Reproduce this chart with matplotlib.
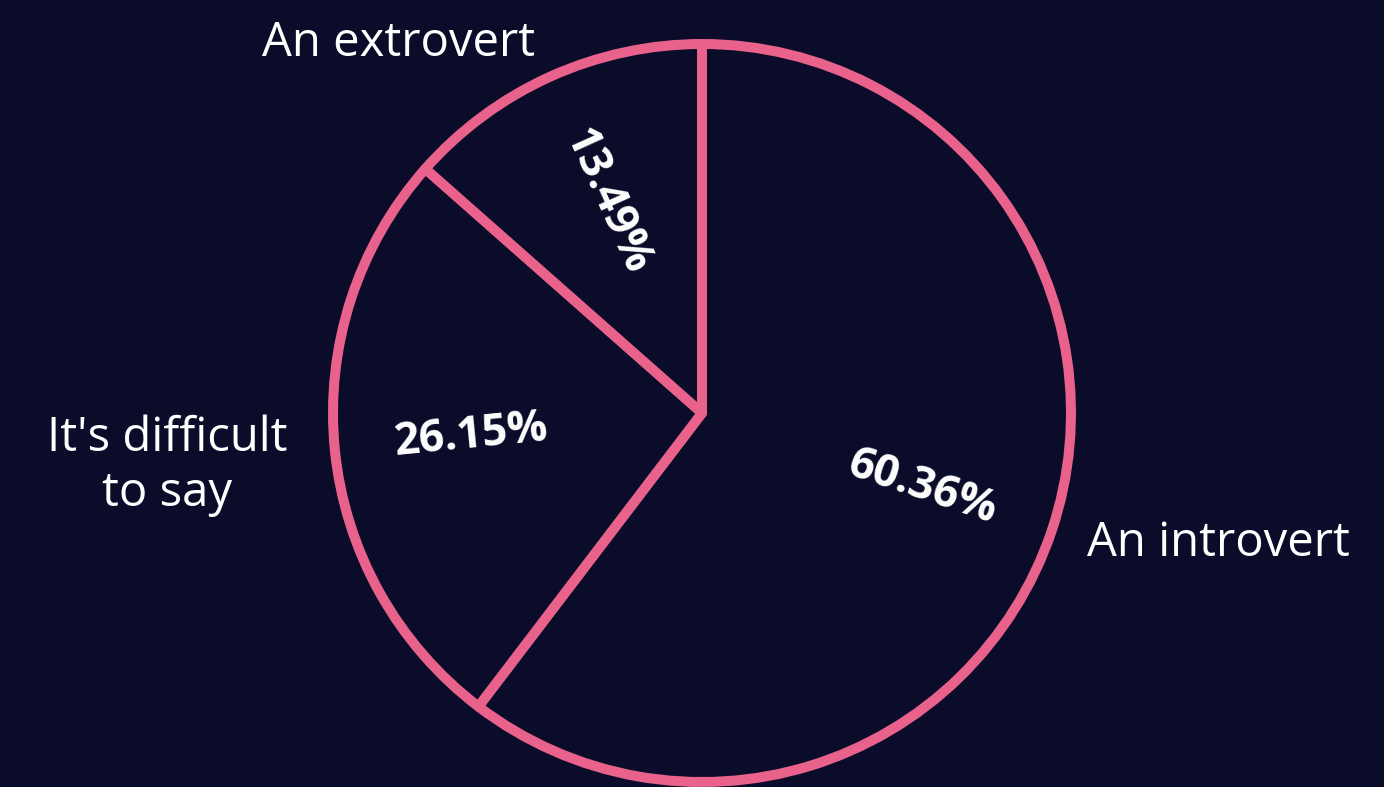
import matplotlib.pyplot as plt

labels = ["An introvert", "It's difficult\nto say", "An extrovert"]
shares = [60.36, 26.15, 13.49]

bg = "#0b0c2a"
pink = "#e8628b"

plt.rcParams["font.family"] = ["Open Sans", "DejaVu Sans"]

fig = plt.figure(figsize=(13.84, 7.87), dpi=100, facecolor=bg)
ax = fig.add_axes([0, 0, 1, 1])
ax.set_facecolor(bg)

# pixel-based limits so the pie sits where it should and stays round
r_px = 369
cx, cy = 702, 787 - 413

wedges, texts, autotexts = ax.pie(
    shares, labels=labels, startangle=90, counterclock=False,
    autopct="%.2f%%", pctdistance=0.63, labeldistance=1.1,
    radius=1, frame=False,
    wedgeprops=dict(facecolor=bg, edgecolor=pink, linewidth=7.2,
                    joinstyle="round"),
    textprops=dict(color="white", fontsize=34),
)
ax.set_xlim(-cx / r_px, (1384 - cx) / r_px)
ax.set_ylim(-cy / r_px, (787 - cy) / r_px)
ax.axis("off")

for t in texts:
    t.set_linespacing(1.2)
    t.set_multialignment("center")

# the two-line label sits a little further out and lower
x, y = texts[1].get_position()
texts[1].set_position((x - 11 / r_px, y - 13 / r_px))

for w, t in zip(wedges, autotexts):
    mid = (w.theta1 + w.theta2) / 2
    rot = mid - 180 if mid > 90 or mid < -90 else mid
    t.set_rotation(rot)
    t.set_rotation_mode("anchor")
    t.set_fontweight("bold")
    t.set_fontsize(32)
    t.set_ha("center")
    t.set_va("center")

fig.savefig("out.png", dpi=100, facecolor=bg)
